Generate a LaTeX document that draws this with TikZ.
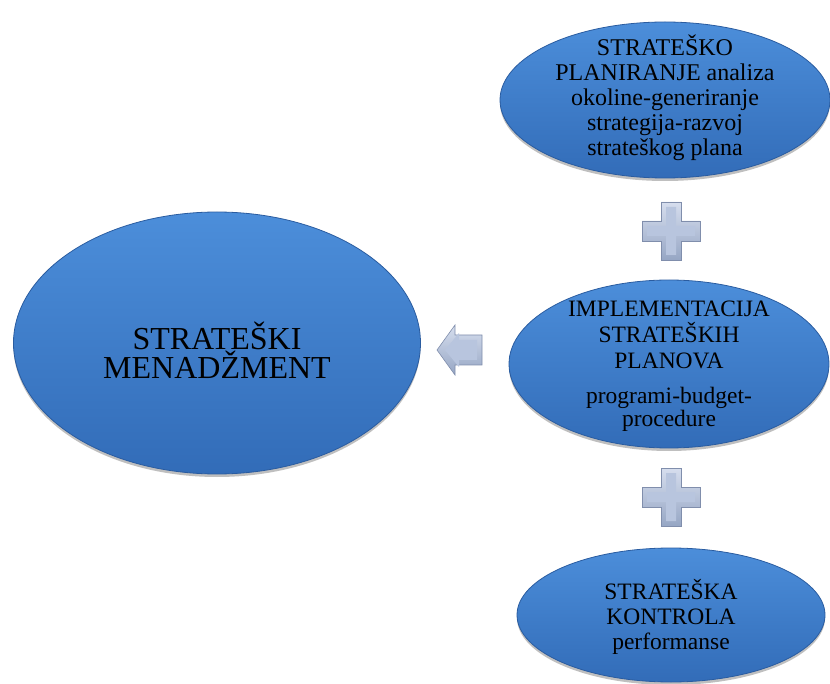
\documentclass[tikz,border=0pt]{standalone}
\usepackage{fontspec}
\setmainfont{Liberation Serif}
\usetikzlibrary{shapes.geometric,shadows}
\definecolor{blobtop}{RGB}{76,142,218}
\definecolor{blobbot}{RGB}{50,108,184}
\definecolor{blobrim}{RGB}{42,92,160}
\definecolor{plustop}{RGB}{214,222,238}
\definecolor{plusbot}{RGB}{150,166,196}
\definecolor{plusrim}{RGB}{128,142,172}
\definecolor{plusin}{RGB}{184,197,222}
\tikzset{
  blob/.style={ellipse, inner sep=0pt, top color=blobtop, bottom color=blobbot,
    draw=blobrim, line width=0.8pt,
    drop shadow={shadow xshift=0pt, shadow yshift=-3pt, opacity=0.25, fill=black}},
  txt/.style={align=center, inner sep=0pt, text=black},
  bevel/.style={top color=plustop, bottom color=plusbot, draw=plusrim, line width=0.6pt},
  bevelin/.style={fill=plusin, draw=none}
}
\begin{document}
\begin{tikzpicture}[x=1pt,y=-1pt]
\useasboundingbox (0,0) rectangle (830,684);
% ellipses
\node[blob, minimum width=407pt, minimum height=262pt] (sm) at (217,343) {};
\node[blob, minimum width=330pt, minimum height=156pt] (plan) at (665,100) {};
\node[blob, minimum width=320pt, minimum height=168pt] (impl) at (669,364) {};
\node[blob, minimum width=308pt, minimum height=134pt] (kont) at (671,615) {};
% texts
\node[txt, font=\fontsize{32}{29}\selectfont] (smtxt) at (217,350) {STRATEŠKI\\MENADŽMENT};
\node[txt, font=\fontsize{24}{25}\selectfont] (plantxt) at (665,98) {STRATEŠKO\\PLANIRANJE analiza\\okoline-generiranje\\strategija-razvoj\\strateškog plana};
\node[txt, font=\fontsize{23.5}{26}\selectfont] (impltxt) at (669,366) {IMPLEMENTACIJA\\STRATEŠKIH\\PLANOVA\\[9pt]programi-budget-\\[-3pt]procedure};
\node[txt, font=\fontsize{23.5}{25}\selectfont] (konttxt) at (671,617) {STRATEŠKA\\KONTROLA\\performanse};
% plus signs
\foreach \n/\cy in {plusA/231, plusB/497} {
  \coordinate (\n) at (671,\cy);
  \draw[bevel] ([shift={(-10,-29)}]\n) -- ([shift={(10,-29)}]\n) -- ([shift={(10,-10)}]\n)
    -- ([shift={(29,-10)}]\n) -- ([shift={(29,10)}]\n) -- ([shift={(10,10)}]\n)
    -- ([shift={(10,29)}]\n) -- ([shift={(-10,29)}]\n) -- ([shift={(-10,10)}]\n)
    -- ([shift={(-29,10)}]\n) -- ([shift={(-29,-10)}]\n) -- ([shift={(-10,-10)}]\n) -- cycle;
  \fill[bevelin] ([shift={(-5,-24)}]\n) -- ([shift={(5,-24)}]\n) -- ([shift={(5,-5)}]\n)
    -- ([shift={(24,-5)}]\n) -- ([shift={(24,5)}]\n) -- ([shift={(5,5)}]\n)
    -- ([shift={(5,24)}]\n) -- ([shift={(-5,24)}]\n) -- ([shift={(-5,5)}]\n)
    -- ([shift={(-24,5)}]\n) -- ([shift={(-24,-5)}]\n) -- ([shift={(-5,-5)}]\n) -- cycle;
}
% left arrow
\coordinate (arr) at (460,350);
\draw[bevel] ([shift={(-23,0)}]arr) -- ([shift={(-5,-25)}]arr) -- ([shift={(-5,-15)}]arr)
  -- ([shift={(22,-15)}]arr) -- ([shift={(22,15)}]arr) -- ([shift={(-5,15)}]arr)
  -- ([shift={(-5,25)}]arr) -- cycle;
\fill[bevelin] ([shift={(-15,0)}]arr) -- ([shift={(-1,-17)}]arr) -- ([shift={(-1,-10)}]arr)
  -- ([shift={(17,-10)}]arr) -- ([shift={(17,10)}]arr) -- ([shift={(-1,10)}]arr)
  -- ([shift={(-1,17)}]arr) -- cycle;
\end{tikzpicture}
\end{document}
